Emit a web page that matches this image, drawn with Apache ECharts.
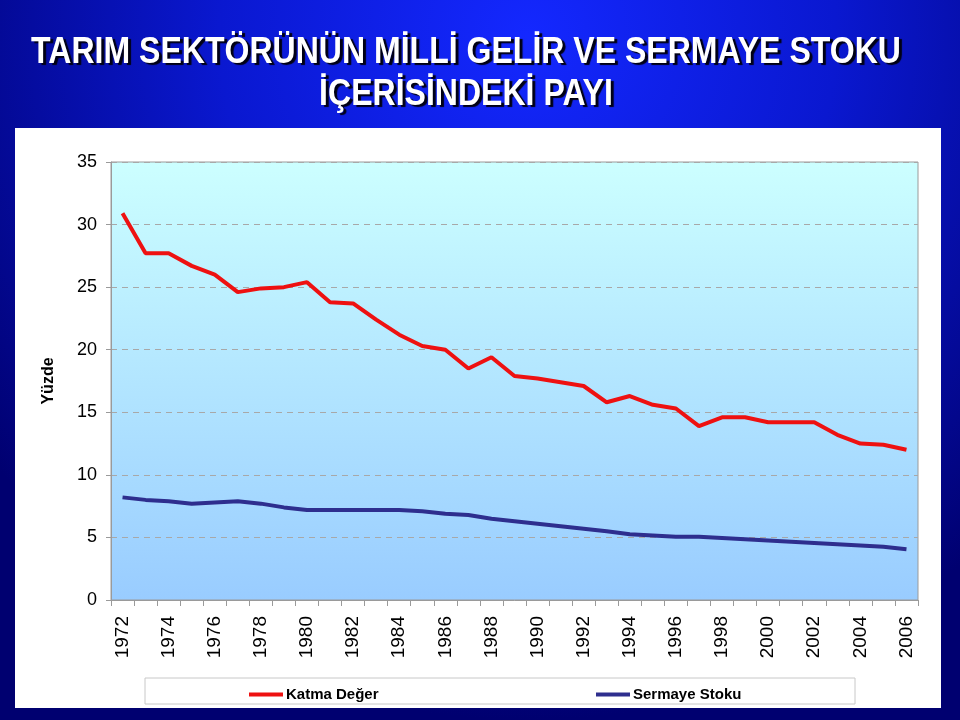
<!DOCTYPE html>
<html>
<head>
<meta charset="utf-8">
<script src="https://cdn.jsdelivr.net/npm/echarts@6/dist/echarts.min.js"></script>
<style>
html,body{margin:0;padding:0;}
#chart{width:960px;height:720px;}
</style>
</head>
<body>
<div id="chart"></div>
<script>
const years = ['1972','1973','1974','1975','1976','1977','1978','1979','1980','1981','1982','1983','1984','1985','1986','1987','1988','1989','1990','1991','1992','1993','1994','1995','1996','1997','1998','1999','2000','2001','2002','2003','2004','2005','2006'];
const katmaDeger = [30.9,27.7,27.7,26.7,26.0,24.6,24.9,25.0,25.4,23.8,23.7,22.4,21.2,20.3,20.0,18.5,19.4,17.9,17.7,17.4,17.1,15.8,16.3,15.6,15.3,13.9,14.6,14.6,14.2,14.2,14.2,13.2,12.5,12.4,12.0];
const sermayeStoku = [8.2,8.0,7.9,7.7,7.8,7.9,7.7,7.4,7.2,7.2,7.2,7.2,7.2,7.1,6.9,6.8,6.5,6.3,6.1,5.9,5.7,5.5,5.25,5.15,5.05,5.05,4.95,4.85,4.75,4.65,4.55,4.45,4.35,4.25,4.05];
const titleLine1 = 'TARIM SEKTÖRÜNÜN MİLLİ GELİR VE SERMAYE STOKU';
const titleLine2 = 'İÇERİSİNDEKİ PAYI';

const chart = echarts.init(document.getElementById('chart'));
const sans = '"Liberation Sans", Arial, sans-serif';

chart.setOption({
  backgroundColor: {
    type: 'radial', x: 0.55, y: 0.05, r: 0.95,
    colorStops: [{offset: 0, color: '#1428ff'}, {offset: 0.45, color: '#0a18d0'}, {offset: 1, color: '#000070'}]
  },
  graphic: [
    {type: 'rect', shape: {x: 15, y: 128, width: 926, height: 580}, style: {fill: '#ffffff'}, z: -10},
    {type: 'rect', shape: {x: 145, y: 678, width: 710, height: 26}, style: {fill: '#ffffff', stroke: '#c8c8c8', lineWidth: 1}, z: -5},
    {type: 'text', x: 466, y: 32, scaleX: 0.89, scaleY: 1, style: {
      text: titleLine1 + '\n' + titleLine2, fill: '#ffffff', font: 'bold 36px ' + sans,
      textAlign: 'center', textVerticalAlign: 'top', lineHeight: 42,
      textShadowColor: 'rgba(0,0,20,1)', textShadowOffsetX: 3, textShadowOffsetY: 2, textShadowBlur: 1
    }}
  ],
  grid: {left: 111, right: 42, top: 162, bottom: 120, show: true, borderColor: '#9a9a9a', borderWidth: 1,
    backgroundColor: {type: 'linear', x: 0, y: 0, x2: 0, y2: 1,
      colorStops: [{offset: 0, color: '#ccffff'}, {offset: 1, color: '#99ccff'}]}},
  legend: [
    {data: ['Katma Değer'], left: 244, top: 682, itemWidth: 34, itemHeight: 4, itemGap: 4,
      icon: 'rect', textStyle: {fontFamily: sans, fontWeight: 'bold', fontSize: 15, color: '#000', padding: [0,0,0,-2]}},
    {data: ['Sermaye Stoku'], left: 591, top: 682, itemWidth: 34, itemHeight: 4, itemGap: 4,
      icon: 'rect', textStyle: {fontFamily: sans, fontWeight: 'bold', fontSize: 15, color: '#000', padding: [0,0,0,-2]}}
  ],
  xAxis: {
    type: 'category', data: years, boundaryGap: true,
    axisLine: {lineStyle: {color: '#9a9a9a'}},
    axisTick: {show: true, interval: 0, length: 6, lineStyle: {color: '#9a9a9a'}},
    axisLabel: {interval: 1, rotate: 90, margin: 16, fontSize: 19, fontFamily: sans, color: '#000'},
    splitLine: {show: false}
  },
  yAxis: {
    type: 'value', min: 0, max: 35, interval: 5,
    name: 'Yüzde', nameLocation: 'middle', nameGap: 54, nameRotate: 90,
    nameTextStyle: {fontFamily: sans, fontWeight: 'bold', fontSize: 16, color: '#000'},
    axisLine: {show: true, lineStyle: {color: '#9a9a9a'}},
    axisTick: {show: true, length: 5, lineStyle: {color: '#9a9a9a'}},
    axisLabel: {margin: 14, fontSize: 18, fontFamily: sans, color: '#000'},
    splitLine: {show: true, lineStyle: {color: '#a8a8a8', type: [6, 5], width: 1}}
  },
  series: [
    {name: 'Katma Değer', type: 'line', data: katmaDeger, symbol: 'none', color: '#ee1111',
      lineStyle: {width: 4, color: '#ee1111'}},
    {name: 'Sermaye Stoku', type: 'line', data: sermayeStoku, symbol: 'none', color: '#2e2e8e',
      lineStyle: {width: 4, color: '#2e2e8e'}}
  ]
});
</script>
</body>
</html>
